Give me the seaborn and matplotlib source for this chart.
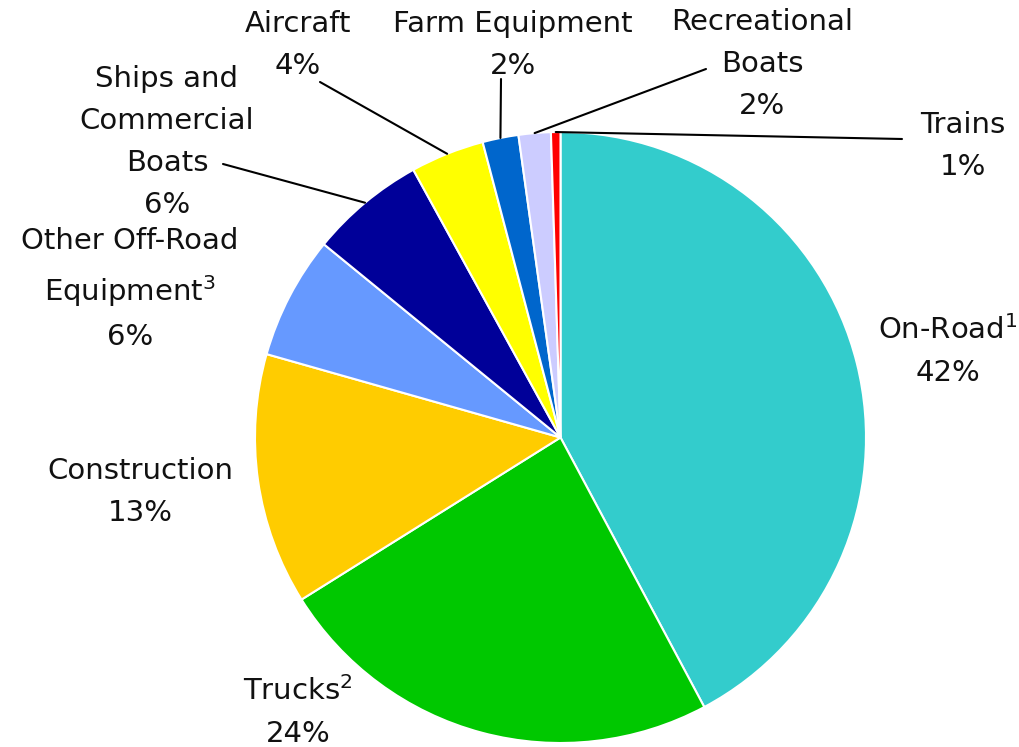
import numpy as np
import matplotlib
matplotlib.use("Agg")
import matplotlib.pyplot as plt
import seaborn as sns

# ---- data ----
categories = ["On-Road$^{1}$", "Trucks$^{2}$", "Construction",
              "Other Off-Road\nEquipment$^{3}$", "Ships and\nCommercial\nBoats",
              "Aircraft", "Farm Equipment", "Recreational\nBoats", "Trains"]
shares = [42.2, 23.9, 13.3, 6.5, 6.1, 3.9, 1.9, 1.7, 0.5]
pct_labels = ["42%", "24%", "13%", "6%", "6%", "4%", "2%", "2%", "1%"]
colors = ["#33CCCC", "#00C800", "#FFCC00", "#6699FF", "#000099",
          "#FFFF00", "#0066CC", "#CCCCFF", "#FF0000"]

# ---- layout (pixel space, y down) ----
center = (560.5, 437.5)
radius = 305.5
label_pos = [(948, 351), (298, 712), (140, 492), (130, 289), (167, 142),
             (298, 45), (513, 45), (762, 64), (963, 146)]
leader_from = {4: (223, 164), 5: (320, 82), 6: (501, 79), 7: (706, 69), 8: (902, 139)}

sns.set_theme(style="white")
plt.rcParams["font.family"] = ["DejaVu Sans"]
plt.rcParams["mathtext.default"] = "regular"

fig = plt.figure(figsize=(10.2, 7.47), dpi=100)
ax = fig.add_axes([0, 0, 1, 1])

# y axis is inverted, so counterclock=True + startangle=-90 draws clockwise from the top
wedges, _ = ax.pie(shares, colors=colors, startangle=-90, counterclock=True,
                   center=center, radius=radius, frame=True,
                   wedgeprops=dict(edgecolor="white", linewidth=1.5))
ax.set_xlim(0, 1020)
ax.set_ylim(747, 0)
ax.axis("off")

for i, (name, pct) in enumerate(zip(categories, pct_labels)):
    x, y = label_pos[i]
    ax.text(x, y, name + "\n" + pct, ha="center", va="center", fontsize=21,
            color="#111111", linespacing=1.65)

for i, (lx, ly) in leader_from.items():
    w = wedges[i]
    mid = np.deg2rad((w.theta1 + w.theta2) / 2)
    ex = center[0] + radius * np.cos(mid)
    ey = center[1] + radius * np.sin(mid)
    ax.plot([lx, ex], [ly, ey], color="black", linewidth=1.5)

fig.savefig("out.png", dpi=100)
